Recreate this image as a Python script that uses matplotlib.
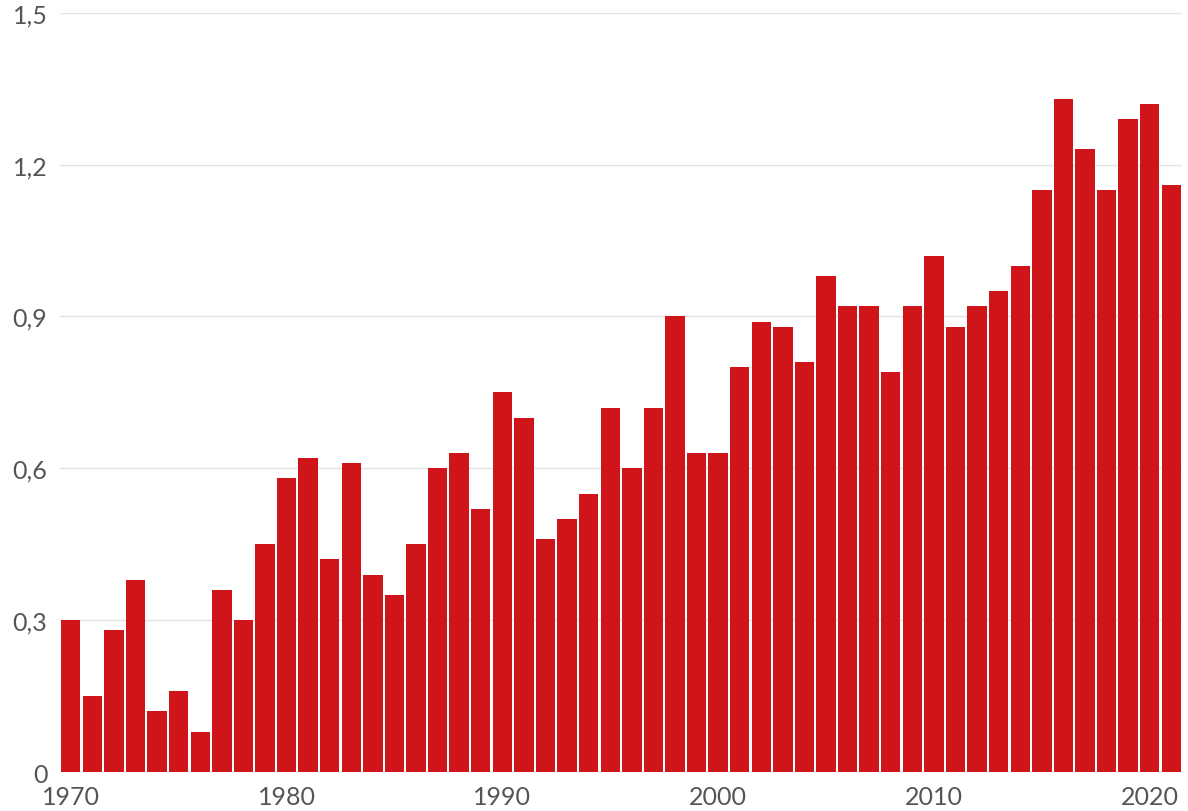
import numpy as np
import matplotlib
matplotlib.use("Agg")
import matplotlib.pyplot as plt

# years and anomaly values
years = list(range(1970, 2022))
values = [0.30, 0.15, 0.28, 0.38, 0.12, 0.16, 0.08, 0.36, 0.30, 0.45,
          0.58, 0.62, 0.42, 0.61, 0.39, 0.35, 0.45, 0.60, 0.63, 0.52,
          0.75, 0.70, 0.46, 0.50, 0.55, 0.72, 0.60, 0.72, 0.90, 0.63,
          0.63, 0.80, 0.89, 0.88, 0.81, 0.98, 0.92, 0.92, 0.79, 0.92,
          1.02, 0.88, 0.92, 0.95, 1.00, 1.15, 1.33, 1.23, 1.15, 1.29,
          1.32, 1.16]
y_ticks = [0, 0.3, 0.6, 0.9, 1.2, 1.5]
y_labels = ["0", "0,3", "0,6", "0,9", "1,2", "1,5"]
x_ticks = [1970, 1980, 1990, 2000, 2010, 2020]

plt.rcParams['font.family'] = ['Lato', 'DejaVu Sans']

fig = plt.figure(figsize=(11.88, 8.12), dpi=100)
ax = fig.add_axes([0.0505, 0.048, 0.9445, 0.935])

ax.bar(years, values, width=0.9, color="#cf151a", edgecolor="none", zorder=2)

ax.set_ylim(0, 1.5)
ax.set_xlim(1969.5, 2021.5)
ax.set_yticks(y_ticks)
ax.set_yticklabels(y_labels)
ax.set_xticks(x_ticks)
ax.set_xticklabels([str(x) for x in x_ticks])

ax.grid(axis="y", color="#e3e3e3", linewidth=1, zorder=0)
ax.tick_params(axis="both", length=0, labelsize=18, labelcolor="#555555")
ax.tick_params(axis="y", pad=9)
ax.tick_params(axis="x", pad=9)
for s in ax.spines.values():
    s.set_visible(False)

fig.savefig("out.png", dpi=100, facecolor="white")
